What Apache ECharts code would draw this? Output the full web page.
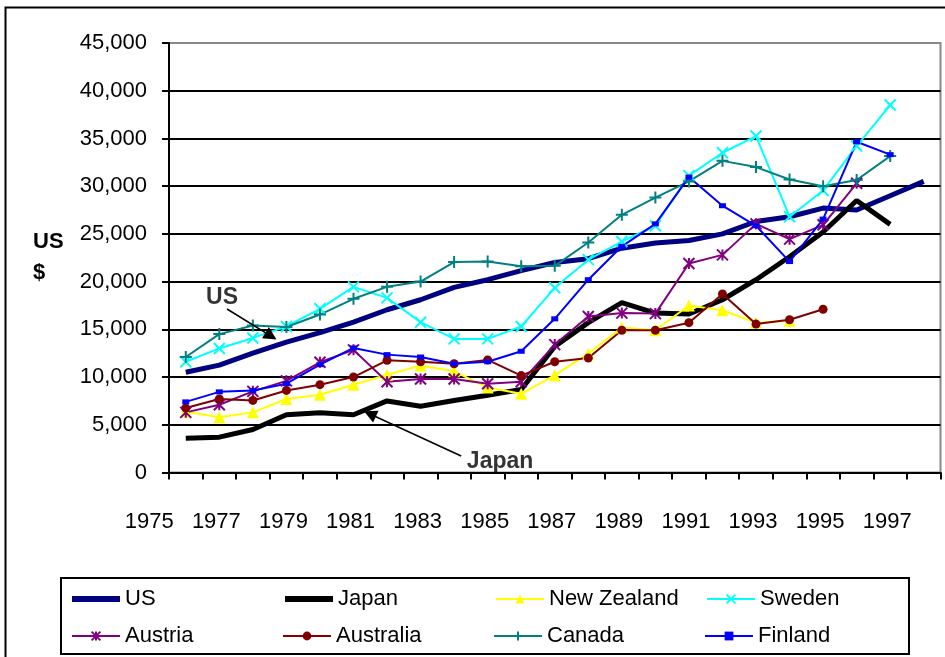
<!DOCTYPE html>
<html>
<head>
<meta charset="utf-8">
<script src="https://cdn.jsdelivr.net/npm/echarts@6/dist/echarts.min.js"></script>
<style>
  html, body { margin: 0; padding: 0; background: #fff; }
  #chart { width: 945px; height: 657px; }
</style>
</head>
<body>
<div id="chart"></div>
<script>
// GDP per capita, US$, 1976-1998
const years = ['1976','1977','1978','1979','1980','1981','1982','1983','1984','1985','1986','1987',
               '1988','1989','1990','1991','1992','1993','1994','1995','1996','1997','1998'];
// Year labels printed under the axis (every other year, starting 1975)
const labelYears = ['1975','1976','1977','1978','1979','1980','1981','1982','1983','1984','1985','1986',
                    '1987','1988','1989','1990','1991','1992','1993','1994','1995','1996','1997','1998'];

const us          = [10500, 11250, 12500, 13650, 14650, 15750, 17050, 18100, 19400, 20200, 21150, 22000,
                     22400, 23500, 24050, 24300, 25000, 26300, 26800, 27700, 27500, 29000, 30500];
const japan       = [3600, 3700, 4500, 6050, 6250, 6050, 7500, 6950, 7550, 8100, 8700, 13200,
                     15700, 17800, 16700, 16600, 18100, 20200, 22600, 25200, 28500, 26000];
const newZealand  = [6400, 5800, 6300, 7700, 8150, 9200, 10250, 11200, 10600, 8900, 8250, 10200,
                     12450, 15200, 14900, 17500, 17000, 15700, 15900];
const sweden      = [11600, 13000, 14100, 15300, 17150, 19450, 18300, 15750, 14000, 14000, 15300, 19350,
                     22300, 24200, 25850, 31100, 33500, 35250, 26800, 29550, 34200, 38500];
const austria     = [6300, 7100, 8500, 9600, 11550, 12850, 9500, 9800, 9800, 9300, 9500, 13400,
                     16350, 16700, 16650, 21900, 22800, 26050, 24450, 25950, 30300];
const australia   = [6750, 7700, 7550, 8600, 9200, 10000, 11750, 11600, 11400, 11800, 10150, 11600,
                     12000, 14900, 14900, 15700, 18700, 15550, 16000, 17100];
const canada      = [12100, 14500, 15400, 15250, 16550, 18200, 19450, 20000, 22050, 22100, 21600, 21650,
                     24100, 27000, 28800, 30500, 32650, 32000, 30700, 30000, 30650, 33150];
const finland     = [7400, 8450, 8600, 9300, 11300, 13050, 12350, 12100, 11400, 11600, 12700, 16100,
                     20200, 23700, 26050, 30950, 27950, 25850, 22100, 26550, 34650, 33300];

// Callouts: label position and arrow (from -> to), in [year, US$]
const callouts = [
  { text: 'US',    at: [1977.08, 18280], from: [1977.23, 17130], to: [1978.54, 14300] },
  { text: 'Japan', at: [1985.37, 1100],  from: [1984.21, 1730],  to: [1981.49, 6130] }
];

const FONT = '"Liberation Sans", Arial, sans-serif';
const CROSS = 'path://M0,0L10,10M10,0L0,10';
const PLUS = 'path://M5,0L5,10M0,5L10,5';
const STAR = 'path://M0,0L10,10M10,0L0,10M5,0L5,10';

function lineSeries(name, data, color, width, symbol, size, stroked) {
  return {
    name, type: 'line', data,
    xAxisIndex: 0, yAxisIndex: 0,
    symbol: symbol || 'none',
    symbolSize: size || 0,
    showSymbol: !!symbol,
    lineStyle: { color, width },
    itemStyle: stroked
      ? { color: 'none', borderColor: color, borderWidth: 2 }
      : { color, borderColor: color, borderWidth: 0 },
    emphasis: { disabled: true },
    z: 3
  };
}

// Thick lines carry no marker, so their legend entries show only the line
const plainLegend = name => ({ name, lineStyle: { width: 6 }, itemStyle: { color: 'rgba(0,0,0,0)', borderWidth: 0, opacity: 0 } });

const chart = echarts.init(document.getElementById('chart'));
chart.setOption({
  animation: false,
  backgroundColor: '#fff',
  textStyle: { fontFamily: FONT },
  graphic: [{
    type: 'rect', left: 3, top: 5, silent: true,
    shape: { width: 1000, height: 1000 },
    style: { fill: 'none', stroke: '#000', lineWidth: 2 }
  }],
  grid: [
    { left: 169, right: 4.5, top: 43, bottom: 184.5, show: true, borderColor: '#888', borderWidth: 2, backgroundColor: 'transparent' },
    { left: 132.5, right: 7.5, top: 43, bottom: 184.5 }
  ],
  xAxis: [
    {
      type: 'category', gridIndex: 0, data: years, boundaryGap: true,
      axisLine: { lineStyle: { color: '#000', width: 2 } },
      axisTick: { show: true, interval: 0, length: 7, lineStyle: { color: '#000', width: 2 } },
      axisLabel: { show: false },
      splitLine: { show: false }
    },
    {
      type: 'category', gridIndex: 1, data: labelYears, boundaryGap: true,
      axisLine: { show: false }, axisTick: { show: false },
      axisLabel: { interval: 1, margin: 38, color: '#000', fontSize: 22, fontFamily: FONT },
      splitLine: { show: false }
    },
    { type: 'value', gridIndex: 0, min: 1975.5, max: 1998.5, show: false }
  ],
  yAxis: [
    {
      type: 'value', gridIndex: 0, min: 0, max: 45000, interval: 5000,
      name: 'US\n$', nameLocation: 'middle', nameRotate: 0, nameGap: 136,
      nameTextStyle: { color: '#000', fontWeight: 'bold', fontSize: 22, fontFamily: FONT, align: 'left', lineHeight: 31, padding: [0, 0, 18, 0] },
      axisLine: { show: true, lineStyle: { color: '#000', width: 2 } },
      axisTick: { show: true, length: 7, lineStyle: { color: '#000', width: 2 } },
      axisLabel: { margin: 22, color: '#000', fontSize: 22, fontFamily: FONT,
        formatter: v => v.toLocaleString('en-US') },
      splitLine: { show: true, lineStyle: { color: ['#000','#000','#000','#000','#000','#000','#000','#000','#000','#888'], width: 2 } }
    },
    { type: 'value', gridIndex: 1, show: false, min: 0, max: 45000 }
  ],
  legend: {
    data: [plainLegend('US'), plainLegend('Japan'), 'New Zealand', 'Sweden', 'Austria', 'Australia', 'Canada', 'Finland'],
    left: 61, top: 578, width: 840,
    orient: 'horizontal',
    padding: [8, 3, 5, 8],
    borderColor: '#000', borderWidth: 2,
    itemWidth: 48, itemHeight: 11, itemGap: 11,
    textStyle: { color: '#000', fontSize: 22, fontFamily: FONT, width: 146, lineHeight: 26 },
    selectedMode: false
  },
  series: [
    lineSeries('US', us, '#000080', 5),
    lineSeries('Japan', japan, '#000000', 5),
    lineSeries('New Zealand', newZealand, '#FFFF00', 2, 'triangle', 12, false),
    lineSeries('Sweden', sweden, '#00FFFF', 2, CROSS, 11, true),
    lineSeries('Austria', austria, '#800080', 2, STAR, 11, true),
    lineSeries('Australia', australia, '#800000', 2, 'circle', 9, false),
    lineSeries('Canada', canada, '#008080', 2, PLUS, 12, true),
    lineSeries('Finland', finland, '#0000FF', 2, 'rect', [7, 5], false),
    {
      name: 'callouts', type: 'scatter', xAxisIndex: 2, yAxisIndex: 0,
      data: callouts.map(c => ({ name: c.text, value: c.at })),
      symbolSize: 0, silent: true, z: 5,
      label: { show: true, position: 'inside', formatter: '{b}', color: '#000',
        fontWeight: 'bold', fontSize: 23, fontFamily: FONT },
      markLine: {
        silent: true, symbol: ['none', 'triangle'], symbolSize: 13,
        label: { show: false },
        lineStyle: { color: '#000', width: 1.5, type: 'solid' },
        itemStyle: { color: '#000' },
        data: callouts.map(c => [{ coord: c.from }, { coord: c.to }])
      }
    }
  ]
});
</script>
</body>
</html>
